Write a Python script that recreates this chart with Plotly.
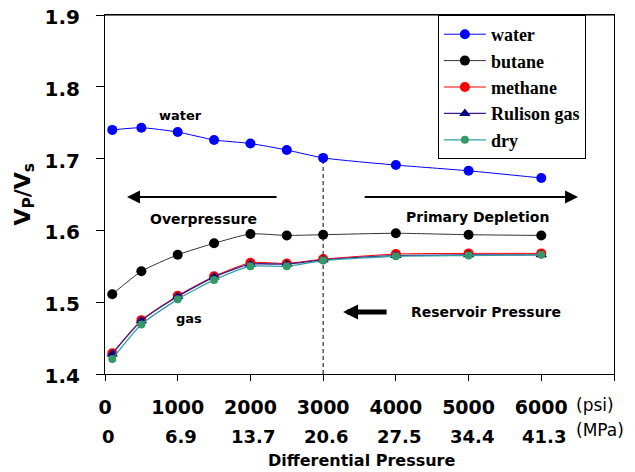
import plotly.graph_objects as go

# ---- data ----
psi = [100, 500, 1000, 1500, 2000, 2500, 3000, 4000, 5000, 6000]
water = [1.740, 1.743, 1.737, 1.726, 1.721, 1.712, 1.701, 1.691, 1.683, 1.673]
butane = [1.511, 1.543, 1.566, 1.582, 1.595, 1.593, 1.594, 1.596, 1.594, 1.593]
methane = [1.429, 1.475, 1.509, 1.536, 1.555, 1.554, 1.560, 1.567, 1.568, 1.568]
rulison = [1.428, 1.474, 1.508, 1.535, 1.553, 1.553, 1.559, 1.565, 1.566, 1.566]
dry = [1.421, 1.469, 1.504, 1.531, 1.550, 1.550, 1.558, 1.564, 1.565, 1.566]

psi_ticks = [0, 1000, 2000, 3000, 4000, 5000, 6000, 7000]
psi_labels = ["0", "1000", "2000", "3000", "4000", "5000", "6000", ""]
mpa_labels = ["0", "6.9", "13.7", "20.6", "27.5", "34.4", "41.3"]
y_ticks = [1.4, 1.5, 1.6, 1.7, 1.8, 1.9]

BOLD = "DejaVu Sans"

fig = go.Figure()

series = [
    ("water", water, dict(color="#0000FF", size=10, symbol="circle"), dict(color="#0000FF", width=1)),
    ("butane", butane, dict(color="#000000", size=10, symbol="circle"), dict(color="#333333", width=1)),
    ("methane", methane, dict(color="#FF0000", size=10, symbol="circle"), dict(color="#FF0000", width=1)),
    ("Rulison gas", rulison, dict(color="#000080", size=10, symbol="triangle-up"), dict(color="#3A1A8C", width=1.3)),
    ("dry", dry, dict(color="#339966", size=8, symbol="circle"), dict(color="#33A0A0", width=1.3)),
]
for name, ys, mk, ln in series:
    fig.add_trace(go.Scatter(
        x=psi, y=ys, name=name, mode="lines+markers",
        marker=mk, line=dict(shape="spline", smoothing=0.6, **ln),
    ))

# dashed reservoir-pressure line at 3000 psi
fig.add_shape(type="line", xref="x", yref="y", x0=3000, x1=3000, y0=1.4, y1=water[6],
              line=dict(color="black", width=1, dash="4px,3px"), layer="below")
# gray top frame line (extends slightly left of the axis)
fig.add_shape(type="line", xref="x", yref="y", x0=-110, x1=7000, y0=1.9, y1=1.9,
              line=dict(color="#707070", width=2), layer="above")

annots = []
# MPa row
for v, lab in zip(psi_ticks[:7], mpa_labels):
    annots.append(dict(x=v, y=-0.1747, xref="x", yref="paper", text="<b>%s</b>" % lab,
                       showarrow=False, xshift=3, font=dict(family=BOLD, size=18, color="black"),
                       xanchor="center", yanchor="middle"))
annots += [
    dict(x=0.963, y=-0.0864, xref="paper", yref="paper", text="(psi)", showarrow=False,
         font=dict(family=BOLD, size=17, color="black"), xanchor="center", yanchor="middle"),
    dict(x=0.972, y=-0.156, xref="paper", yref="paper", text="(MPa)", showarrow=False,
         font=dict(family=BOLD, size=17, color="black"), xanchor="center", yanchor="middle"),
    dict(x=0.503, y=-0.2396, xref="paper", yref="paper", text="<b>Differential Pressure</b>",
         showarrow=False, font=dict(family=BOLD, size=16, color="black"),
         xanchor="center", yanchor="middle"),
    dict(x=-0.159, y=0.5, xref="paper", yref="paper", text="<b>V<sub>P</sub>/V<sub>s</sub></b>",
         showarrow=False, textangle=-90, font=dict(family=BOLD, size=22, color="black"),
         xanchor="center", yanchor="middle"),
    # text labels
    dict(x=1045, y=1.7607, text="<b>water</b>", showarrow=False,
         font=dict(family=BOLD, size=13, color="black")),
    dict(x=1348, y=1.6159, text="<b>Overpressure</b>", showarrow=False,
         font=dict(family=BOLD, size=14, color="black")),
    dict(x=5117, y=1.6187, text="<b>Primary Depletion</b>", showarrow=False,
         font=dict(family=BOLD, size=14, color="black")),
    dict(x=1155, y=1.4768, text="<b>gas</b>", showarrow=False,
         font=dict(family=BOLD, size=13, color="black")),
    dict(x=5234, y=1.4864, text="<b>Reservoir Pressure</b>", showarrow=False,
         font=dict(family=BOLD, size=14, color="black")),
    # arrows
    dict(x=303, y=1.6465, ax=2380, ay=1.6465, axref="x", ayref="y", text="", showarrow=True,
         arrowhead=2, arrowsize=1.3, arrowwidth=2, arrowcolor="black"),
    dict(x=6506, y=1.6465, ax=3550, ay=1.6465, axref="x", ayref="y", text="", showarrow=True,
         arrowhead=2, arrowsize=1.3, arrowwidth=2, arrowcolor="black"),
    dict(x=3274, y=1.4864, ax=3893, ay=1.4864, axref="x", ayref="y", text="", showarrow=True,
         arrowhead=2, arrowsize=0.6, arrowwidth=5, arrowcolor="black"),
]

# the page body adds an 8px offset, so the figure is sized 8px smaller
fig.update_layout(
    width=627, height=464,
    margin=dict(l=97, r=21, t=7, b=98, autoexpand=False),
    plot_bgcolor="white", paper_bgcolor="white",
    showlegend=True,
    legend=dict(x=0.654, y=1.0, xanchor="left", yanchor="top",
                bgcolor="white", bordercolor="black", borderwidth=1,
                font=dict(family="Liberation Serif", size=18, color="black", weight="bold"),
                itemwidth=42),
    annotations=annots,
    xaxis=dict(range=[0, 7000], tickvals=psi_ticks, ticktext=["<b>%s</b>" % t for t in psi_labels],
               showline=True, linecolor="black", linewidth=1, showgrid=False, zeroline=False,
               mirror=True,
               ticks="outside", ticklen=6, tickcolor="black", ticklabelstandoff=10, automargin=False,
               ticklabeloverflow="allow",
               tickfont=dict(family=BOLD, size=19, color="black")),
    yaxis=dict(range=[1.4, 1.9], tickvals=y_ticks, ticktext=["<b>%.1f</b>" % v for v in y_ticks],
               showline=True, linecolor="black", linewidth=1, showgrid=False, zeroline=False,
               mirror=True,
               ticks="outside", ticklen=8, tickcolor="black", ticklabelstandoff=12, automargin=False,
               ticklabeloverflow="allow", ticklabelshift=2,
               tickfont=dict(family=BOLD, size=20, color="black")),
)

fig.write_html("out.html")
